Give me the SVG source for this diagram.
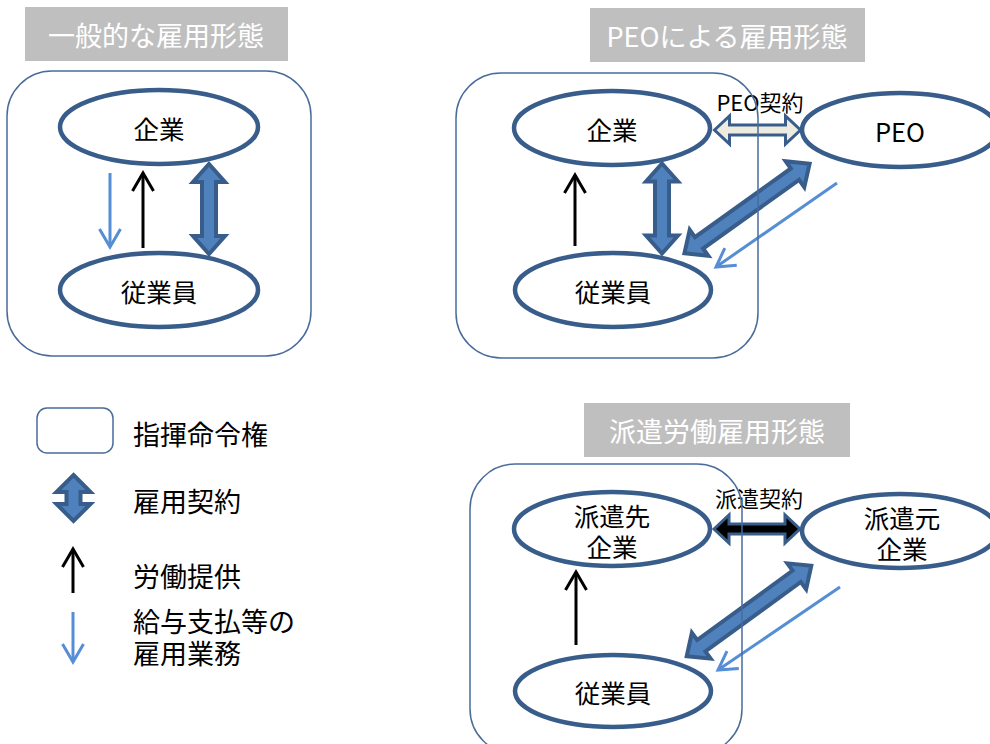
<svg xmlns="http://www.w3.org/2000/svg" width="990" height="744" viewBox="0 0 990 744">
<defs>
<style>
.title-box{fill:#bfbfbf}
.title{font-family:"Noto Sans CJK JP","Noto Sans",sans-serif;font-size:27px;fill:#fff;text-anchor:middle;dominant-baseline:central}
.frame{fill:none;stroke:#4a6c9b;stroke-width:1.5}
.node{fill:#fff;stroke:#385d8a;stroke-width:4.5}
.label{font-family:"Noto Sans CJK JP","Noto Sans",sans-serif;font-size:25.5px;fill:#000;text-anchor:middle;dominant-baseline:central}
.small{font-family:"Noto Sans CJK JP","Noto Sans",sans-serif;font-size:22px;fill:#000;text-anchor:middle;dominant-baseline:central}
.legend{font-family:"Noto Sans CJK JP","Noto Sans",sans-serif;font-size:27px;fill:#000;dominant-baseline:central}
.emp{fill:#4f81bd;stroke:#385d8a;stroke-width:4}
.peo{fill:#eeece1;stroke:#385d8a;stroke-width:3}
.disp{fill:#000;stroke:#385d8a;stroke-width:3}
.work{stroke:#000;stroke-width:3;fill:none;marker-end:url(#hk)}
.pay{stroke:#558ed5;stroke-width:3;fill:none;marker-end:url(#hb)}
</style>
<marker id="hk" markerUnits="userSpaceOnUse" viewBox="0 0 24 24" markerWidth="24" markerHeight="24" refX="21" refY="12" orient="auto"><path d="M3 1.5 L21 12 L3 22.5" fill="none" stroke="#000" stroke-width="3"/></marker>
<marker id="hb" markerUnits="userSpaceOnUse" viewBox="0 0 24 24" markerWidth="24" markerHeight="24" refX="21" refY="12" orient="auto"><path d="M3 1.5 L21 12 L3 22.5" fill="none" stroke="#558ed5" stroke-width="3"/></marker>
<path id="vdbl" d="M0 -45 L16 -27 L7 -27 L7 27 L16 27 L0 45 L-16 27 L-7 27 L-7 -27 L-16 -27 Z"/>
<path id="ddbl" d="M-77 0 L-59 -16 L-59 -7 L59 -7 L59 -16 L77 0 L59 16 L59 7 L-59 7 L-59 16 Z"/>
<path id="hdbl" d="M-43 0 L-28 -14 L-28 -5 L28 -5 L28 -14 L43 0 L28 14 L28 5 L-28 5 L-28 14 Z"/>
</defs>
<rect width="990" height="744" fill="#fff"/>

<!-- titles -->
<g id="title-general"><rect class="title-box" x="25" y="7" width="263" height="54"/><text class="title" x="156" y="34">一般的な雇用形態</text></g>
<g id="title-peo"><rect class="title-box" x="590" y="8" width="275" height="54"/><text class="title" x="727" y="35">PEOによる雇用形態</text></g>
<g id="title-dispatch"><rect class="title-box" x="584" y="403" width="266" height="54"/><text class="title" x="717" y="430">派遣労働雇用形態</text></g>

<!-- nodes -->
<g id="g1-company"><ellipse class="node" cx="159" cy="127" rx="99" ry="37"/><text class="label" x="159" y="127">企業</text></g>
<g id="g1-employee"><ellipse class="node" cx="159" cy="290" rx="99" ry="37"/><text class="label" x="159" y="290">従業員</text></g>

<g id="p-company"><ellipse class="node" cx="612" cy="128" rx="98" ry="37"/><text class="label" x="612" y="128">企業</text></g>
<g id="p-peo"><ellipse class="node" cx="900" cy="130" rx="98" ry="37"/><text class="label" x="900" y="130">PEO</text></g>
<g id="p-employee"><ellipse class="node" cx="613" cy="290" rx="98" ry="37"/><text class="label" x="613" y="290">従業員</text></g>

<g id="d-client"><ellipse class="node" cx="612" cy="529" rx="98" ry="37"/><text class="label" x="612" y="514">派遣先<tspan x="612" dy="31">企業</tspan></text></g>
<g id="d-agency"><ellipse class="node" cx="900" cy="531" rx="98" ry="37"/><text class="label" x="902" y="516">派遣元<tspan x="902" dy="31">企業</tspan></text></g>
<g id="d-employee"><ellipse class="node" cx="613" cy="691" rx="98" ry="36"/><text class="label" x="613" y="691">従業員</text></g>

<!-- connectors -->
<g id="connectors">
<line class="pay" x1="110" y1="173" x2="110" y2="247"/>
<line class="work" x1="143" y1="248" x2="143" y2="173"/>
<use href="#vdbl" class="emp" transform="translate(209,209)"/>

<use href="#hdbl" class="peo" transform="translate(757.5,130)"/>
<text class="small" x="760" y="101">PEO契約</text>
<line class="work" x1="575" y1="246" x2="575" y2="175"/>
<use href="#vdbl" class="emp" transform="translate(662,208.5)"/>
<use href="#ddbl" class="emp" transform="translate(747,208.5) rotate(-35.6)"/>
<line class="pay" x1="837" y1="183" x2="716" y2="267"/>

<use href="#hdbl" class="disp" transform="translate(757,529)"/>
<text class="small" x="759" y="497">派遣契約</text>
<line class="work" x1="576" y1="645" x2="576" y2="572"/>
<use href="#ddbl" class="emp" transform="translate(749,611) rotate(-36)"/>
<line class="pay" x1="840" y1="587" x2="718" y2="670"/>
</g>

<!-- frames (指揮命令権) -->
<g id="frame-general"><rect class="frame" x="7" y="71" width="304" height="285" rx="45"/></g>
<g id="frame-peo"><rect class="frame" x="456" y="73" width="302" height="285" rx="45"/></g>
<g id="frame-dispatch"><rect class="frame" x="470" y="464" width="272" height="290" rx="45"/></g>

<!-- legend -->
<g id="legend-command"><rect class="frame" x="37" y="408" width="76" height="45" rx="10"/><text class="legend" x="133" y="433">指揮命令権</text></g>
<g id="legend-contract"><path class="emp" d="M0 -23 L17 -6 L7 -6 L7 6 L17 6 L0 23 L-17 6 L-7 6 L-7 -6 L-17 -6 Z" transform="translate(73.5,498)"/><text class="legend" x="133" y="500">雇用契約</text></g>
<g id="legend-work"><line class="work" x1="73" y1="593" x2="73" y2="549"/><text class="legend" x="133" y="575">労働提供</text></g>
<g id="legend-pay"><line class="pay" x1="73" y1="612" x2="73" y2="662"/><text class="legend" x="133" y="620">給与支払等の<tspan x="133" dy="32">雇用業務</tspan></text></g>
</svg>
